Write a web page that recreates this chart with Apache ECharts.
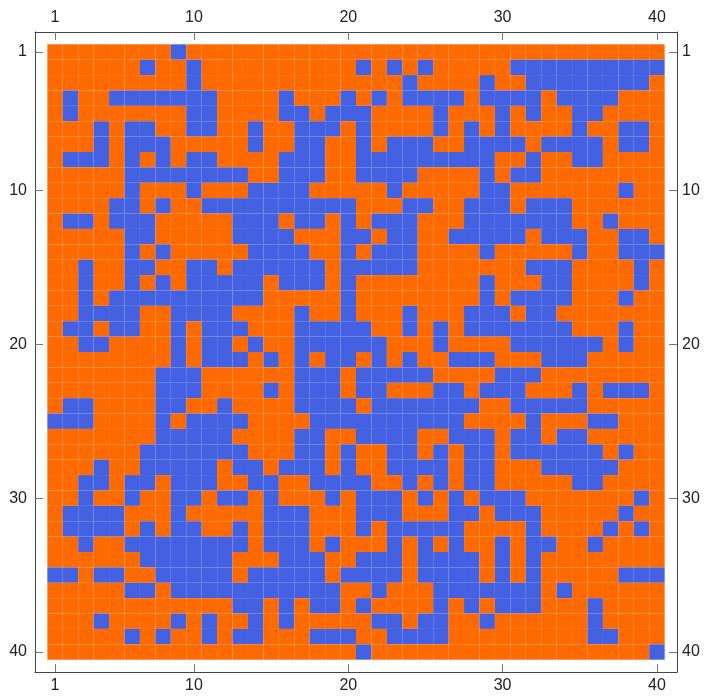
<!DOCTYPE html>
<html>
<head>
<meta charset="utf-8">
<script src="https://cdn.jsdelivr.net/npm/echarts@6/dist/echarts.min.js"></script>
<style>
html,body{margin:0;padding:0;background:#fff;}
#chart{width:705px;height:699px;}
</style>
</head>
<body>
<div id="chart"></div>
<script>
// tick positions on all four sides
var tickValues = [1, 10, 20, 30, 40];
// 0 = orange, 1 = blue
var cellColors = ['#FF6A00', '#4361E1'];
// one string per row (row 1 at the top), one char per column
var rows = [
  '0000000010' + '0000000000' + '0000000000' + '0000000000',
  '0000001001' + '0000000000' + '1010100000' + '1111111111',
  '0000000001' + '0000000000' + '0001000010' + '0111111110',
  '0100111111' + '1000010001' + '0101111011' + '1101111000',
  '0100000001' + '1000011011' + '1000010001' + '0100110000',
  '0001011001' + '1001001110' + '1000010101' + '0000100110',
  '0001011100' + '0001001100' + '1011100111' + '1011110110',
  '0111010101' + '1000011100' + '1111111110' + '0100110000',
  '0000011111' + '1110011100' + '1111000010' + '1100000000',
  '0000010001' + '0001111000' + '0010000011' + '0000000100',
  '0000110100' + '1111111111' + '0001100111' + '0111000000',
  '0110111000' + '0011101101' + '0111000111' + '1111001000',
  '0000011000' + '0011110001' + '1011001111' + '1011100110',
  '0000010100' + '0001111001' + '0111000010' + '0000100111',
  '0010011001' + '1011111101' + '1111000000' + '0111000010',
  '0010010101' + '1111011101' + '0000000010' + '0011000010',
  '0010111111' + '1111000001' + '0000000010' + '1111000100',
  '0011110011' + '1100001001' + '0001000111' + '0110000000',
  '0110110010' + '1110001111' + '1001010111' + '1111000100',
  '0011000010' + '1101001111' + '1100010000' + '1111110100',
  '0000000010' + '1110101011' + '0101001110' + '0011100000',
  '0000000111' + '0000001110' + '1111100001' + '1100000000',
  '0000000111' + '0000101110' + '1100011011' + '1000101110',
  '0110000110' + '0100001111' + '0111111100' + '1111100000',
  '1110000101' + '1110000111' + '1111111000' + '0100011000',
  '0000000111' + '1100001100' + '1111001110' + '1101100000',
  '0000001111' + '1110001101' + '0011010110' + '1111110100',
  '0001001111' + '1011011101' + '0011110110' + '0011111000',
  '0011011011' + '1001100111' + '1001010110' + '0000110000',
  '0010010011' + '0110100010' + '1110101011' + '1000000010',
  '0111100010' + '0000111000' + '1110001101' + '1100000100',
  '0111101011' + '0010111000' + '1011111000' + '0100001010',
  '0010011111' + '1110111010' + '0010101001' + '0110010000',
  '0000001111' + '1100011100' + '1110111101' + '0100000000',
  '1101100111' + '1101111101' + '1110111101' + '0100000111',
  '0000011011' + '1111111110' + '0100011111' + '1101000000',
  '0000000000' + '0011010110' + '1000010101' + '1100010000',
  '0001000010' + '1001010000' + '0110110010' + '0000010000',
  '0000010100' + '1011000111' + '0011110000' + '0000011000',
  '0000000000' + '0000000000' + '1000000000' + '0000000001'
];

var cellData = [];
for (var r = 0; r < rows.length; r++) {
  for (var c = 0; c < rows[r].length; c++) {
    cellData.push([c + 1, r + 1, Number(rows[r].charAt(c))]);
  }
}

function makeAxis(pos, isY, margin) {
  return {
    type: 'value',
    position: pos,
    inverse: isY,
    min: -0.3,
    max: 41.3,
    axisLine: {show: true, onZero: false, lineStyle: {color: '#444', width: 1}},
    axisTick: {show: true, inside: true, length: 8, customValues: tickValues,
      lineStyle: {color: '#777'}},
    axisLabel: {show: true, customValues: tickValues, fontSize: 16, color: '#222',
      fontFamily: 'Liberation Sans', margin: margin},
    splitLine: {show: false}
  };
}

var myChart = echarts.init(document.getElementById('chart'));
var option = {
  animation: false,
  grid: {left: 35, right: 28, top: 32, bottom: 27},
  xAxis: [makeAxis('bottom', false, 6), makeAxis('top', false, 6)],
  yAxis: [makeAxis('left', true, 8), makeAxis('right', true, 5)],
  series: [{
    type: 'custom',
    xAxisIndex: 0,
    yAxisIndex: 0,
    data: cellData,
    encode: {x: 0, y: 1},
    renderItem: function (params, api) {
      var c = api.value(0), r = api.value(1);
      var p0 = api.coord([c - 0.5, r - 0.5]);
      var p1 = api.coord([c + 0.5, r + 0.5]);
      return {
        type: 'rect',
        shape: {
          x: Math.min(p0[0], p1[0]),
          y: Math.min(p0[1], p1[1]),
          width: Math.abs(p1[0] - p0[0]),
          height: Math.abs(p1[1] - p0[1])
        },
        style: {fill: cellColors[api.value(2)]}
      };
    }
  }]
};
myChart.setOption(option);
</script>
</body>
</html>
